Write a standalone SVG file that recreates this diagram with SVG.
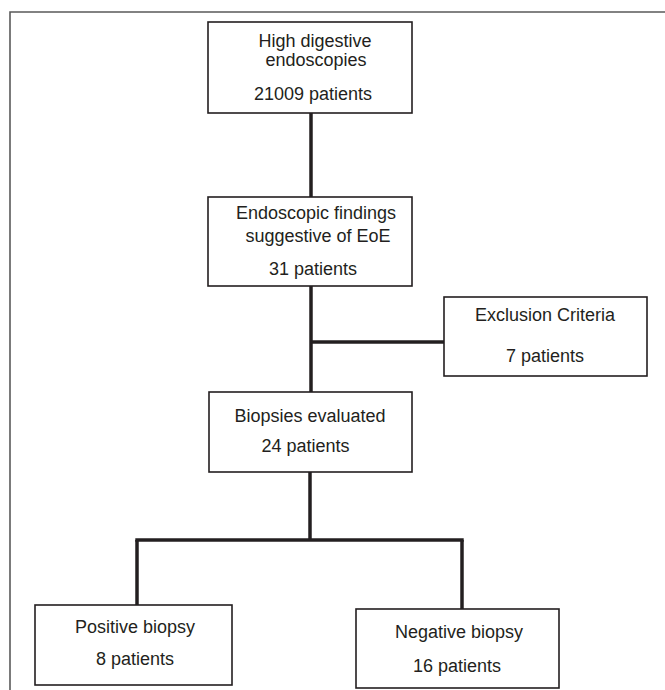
<svg xmlns="http://www.w3.org/2000/svg" width="665" height="690" viewBox="0 0 665 690">
<style>
.box{fill:#fff;stroke:#231f20;stroke-width:1.6}
.t{font-family:"Liberation Sans",Arial,Helvetica,sans-serif;font-size:18px;fill:#231f20;text-anchor:middle}
.c{stroke:#231f20;stroke-width:3.5;fill:none;stroke-linecap:butt}
.frame{stroke:#5a5a5a;stroke-width:1.6;fill:none}
</style>
<rect width="665" height="690" fill="#fff"/>
<path class="frame" d="M10 690 V12 H665"/>
<g id="connectors">
<line class="c" x1="311" y1="113" x2="311" y2="197"/>
<line class="c" x1="311" y1="286" x2="311" y2="392"/>
<line class="c" x1="311" y1="342" x2="444" y2="342"/>
<line class="c" x1="310" y1="472" x2="310" y2="540"/>
<line class="c" x1="135.3" y1="540" x2="463.7" y2="540"/>
<line class="c" x1="137" y1="540" x2="137" y2="605"/>
<line class="c" x1="462" y1="540" x2="462" y2="609"/>
</g>
<g id="n1">
<rect class="box" x="208" y="22" width="204" height="91"/>
<text class="t" x="315" y="47">High digestive</text>
<text class="t" x="316" y="65.5">endoscopies</text>
<text class="t" x="313" y="100">21009 patients</text>
</g>
<g id="n2">
<rect class="box" x="208" y="197" width="204" height="89"/>
<text class="t" x="316" y="219">Endoscopic findings</text>
<text class="t" x="318" y="241.5">suggestive of EoE</text>
<text class="t" x="313" y="275">31 patients</text>
</g>
<g id="n3">
<rect class="box" x="444" y="297" width="203" height="79"/>
<text class="t" x="545" y="321">Exclusion Criteria</text>
<text class="t" x="545" y="361.5">7 patients</text>
</g>
<g id="n4">
<rect class="box" x="209" y="392" width="203" height="80"/>
<text class="t" x="310" y="421.5">Biopsies evaluated</text>
<text class="t" x="305.5" y="452">24 patients</text>
</g>
<g id="n5">
<rect class="box" x="35" y="605" width="197" height="80"/>
<text class="t" x="135" y="633">Positive biopsy</text>
<text class="t" x="135" y="665">8 patients</text>
</g>
<g id="n6">
<rect class="box" x="356" y="609" width="203" height="79"/>
<text class="t" x="459" y="638">Negative biopsy</text>
<text class="t" x="457" y="672">16 patients</text>
</g>
</svg>
